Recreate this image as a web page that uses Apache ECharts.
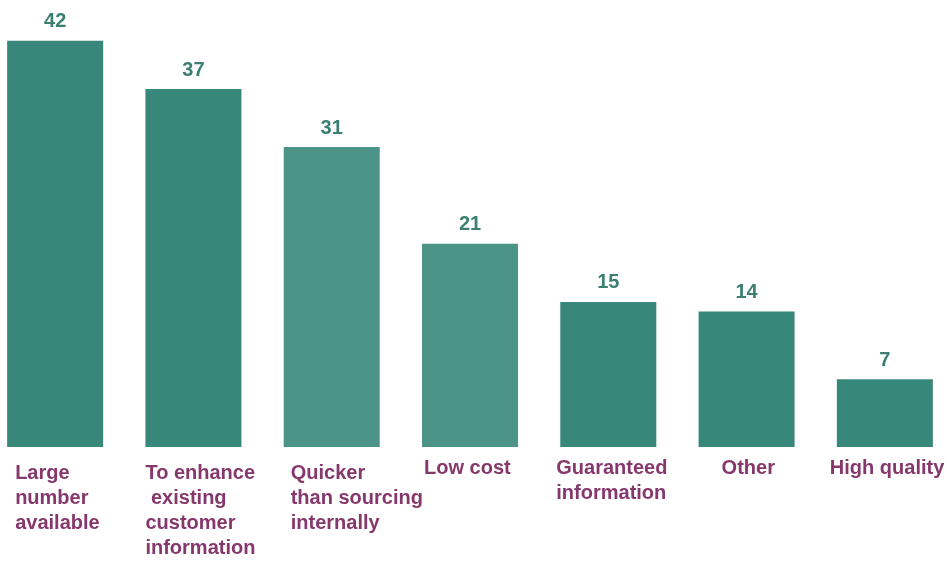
<!DOCTYPE html>
<html>
<head>
<meta charset="utf-8">
<script src="https://cdn.jsdelivr.net/npm/echarts@6/dist/echarts.min.js"></script>
<style>
  html, body { margin: 0; padding: 0; background: #ffffff; overflow: hidden; width: 947px; height: 561px; }
  /* the plot runs slightly past both page edges */
  #chart { position: absolute; left: -14px; top: 0; width: 968px; height: 561px; }
</style>
</head>
<body>
<div id="chart"></div>
<script>
// Reasons given, share of respondents
const categories = [
  'Large\nnumber\navailable',
  'To enhance\n existing\ncustomer\ninformation',
  'Quicker\nthan sourcing\ninternally',
  'Low cost',
  'Guaranteed\ninformation',
  'Other',
  'High quality'
];
const values = [42, 37, 31, 21, 15, 14, 7];

// Bar fills (two teal shades)
const barColors = ['#37877a', '#37877a', '#4b9487', '#4b9487', '#37877a', '#37877a', '#37877a'];
// Per-label shift: [down, left-offset from category centre]
const labelShift = [[6, -40], [6, -48], [6, -41], [1, -46], [1, -52], [1, -25], [1, -55]];

const FONT = 'Arial, "Liberation Sans", sans-serif';

const chart = echarts.init(document.getElementById('chart'), null, { renderer: 'canvas' });

chart.setOption({
  backgroundColor: '#ffffff',
  animation: false,
  grid: { left: 0, right: 0, top: 2, bottom: 113, containLabel: false },
  xAxis: {
    type: 'category',
    data: categories.map((c, i) => ({
      value: c,
      textStyle: { align: 'left', padding: [labelShift[i][0], 0, 0, labelShift[i][1]] }
    })),
    axisLine: { show: false },
    axisTick: { show: false },
    axisLabel: {
      interval: 0,
      align: 'left',
      margin: 8,
      color: '#86386c',
      fontFamily: FONT,
      fontWeight: 'bold',
      fontSize: 20,
      lineHeight: 25
    }
  },
  yAxis: {
    type: 'value',
    min: 0,
    max: 46,
    show: false,
    splitLine: { show: false }
  },
  series: [{
    type: 'bar',
    barWidth: 96,
    data: values.map((v, i) => ({ value: v, itemStyle: { color: barColors[i] } })),
    label: {
      show: true,
      position: 'top',
      distance: 9,
      color: '#3a7f72',
      fontFamily: FONT,
      fontWeight: 'bold',
      fontSize: 20
    }
  }]
});
</script>
</body>
</html>
